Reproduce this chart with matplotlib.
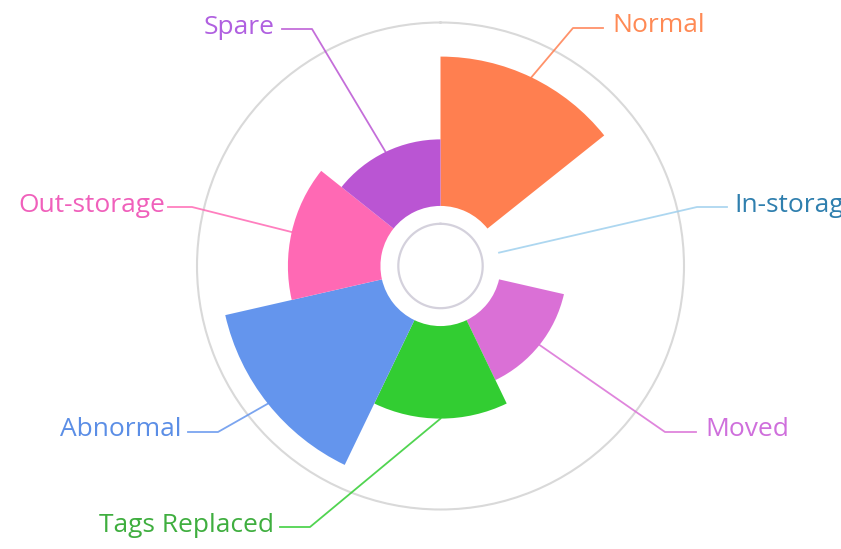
import numpy as np
import matplotlib
matplotlib.use("Agg")
import matplotlib.pyplot as plt
from matplotlib.lines import Line2D
from matplotlib.transforms import IdentityTransform

# ---- data ----
categories = ["Normal", "In-storage", "Moved", "Tags Replaced", "Abnormal", "Out-storage", "Spare"]
values = [92, 0, 41, 57, 99, 57, 41]
colors = ["#ff7f50", "#87cefa", "#da70d6", "#32cd32", "#6495ed", "#ff69b4", "#ba55d3"]
text_colors = ["#ff8a55", "#2f7fae", "#cf6fdc", "#3fae3f", "#5b8ee6", "#f060bb", "#b060e0"]

# ---- layout (pixels, y from top) ----
W, H = 841, 549
cx, cy, R = 440.5, 266.0, 243.5
rmax = 150.0
base = 37.0
inner_ring = 26.0

# label layout: elbow point, line end, text anchor, alignment
label_layout = {
    "Normal":        ((573, 28), (603, 28), (612, 26), "left"),
    "In-storage":    ((697, 207), (727, 207), (734, 205), "left"),
    "Moved":         ((665, 432), (696, 432), (705, 430), "left"),
    "Tags Replaced": ((310, 527), (280, 527), (274, 525), "right"),
    "Abnormal":      ((218, 432), (188, 432), (182, 430), "right"),
    "Out-storage":   ((192, 207), (168, 207), (165, 205), "right"),
    "Spare":         ((312, 29), (282, 29), (275, 27), "right"),
}
line_colors = {"In-storage": "#9fd0ee"}

plt.rcParams["font.family"] = ["Open Sans", "DejaVu Sans"]

fig = plt.figure(figsize=(W / 100, H / 100), dpi=100)
fig.patch.set_facecolor("white")
ax = fig.add_axes([(cx - R) / W, (H - cy - R) / H, 2 * R / W, 2 * R / H], projection="polar")
ax.set_theta_zero_location("N")
ax.set_theta_direction(-1)

n = len(categories)
width = 2 * np.pi / n
theta = (np.arange(n) + 0.5) * width
ax.bar(theta, values, width=width, bottom=base, color=colors, linewidth=0, align="center")

t = np.linspace(0, 2 * np.pi, 500)
ax.plot(t, np.full_like(t, inner_ring), color="#d4d1dc", lw=1.6)

ax.set_ylim(0, rmax)
ax.set_xticks([])
ax.set_yticks([])
ax.grid(False)
ax.spines["polar"].set_color("#d9d9d9")
ax.spines["polar"].set_linewidth(1.5)
ax.set_facecolor("none")

fig.canvas.draw()
for i, cat in enumerate(categories):
    sx, sy = ax.transData.transform((theta[i], base + values[i]))
    (ex, ey), (lx, ly), (tx, ty), ha = label_layout[cat]
    lc = line_colors.get(cat, colors[i])
    fig.add_artist(Line2D([sx, ex, lx], [sy, H - ey, H - ly], color=lc, lw=1.3,
                          transform=IdentityTransform(), alpha=0.85))
    fig.text(tx / W, 1 - ty / H, cat, ha=ha, va="center", fontsize=19,
             color=text_colors[i])

fig.savefig("out.png", dpi=100)
